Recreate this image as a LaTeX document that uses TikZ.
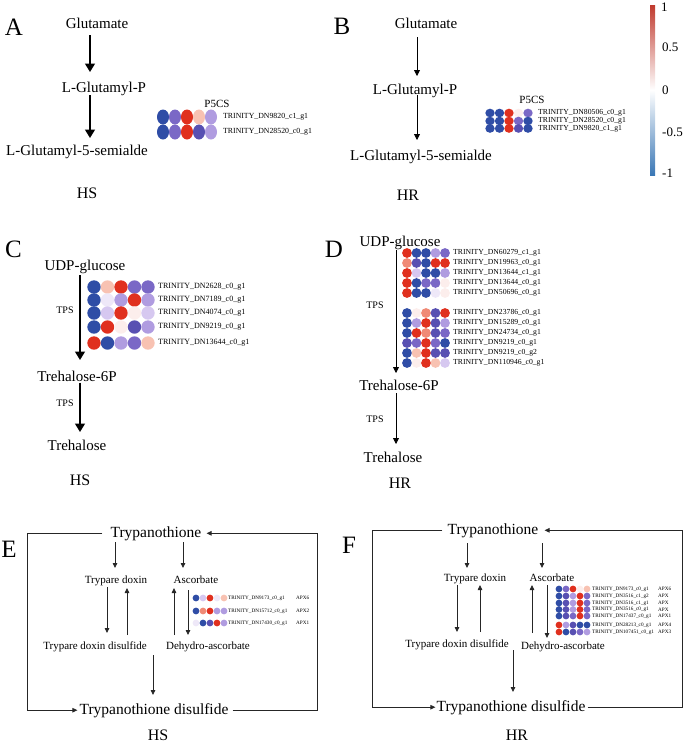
\documentclass[tikz,border=0pt]{standalone}
\usepackage{fontspec}
\setmainfont{Liberation Serif}
\usetikzlibrary{arrows.meta}
\definecolor{dBlu}{HTML}{2F4DA6}
\definecolor{sBlu}{HTML}{5850B2}
\definecolor{mPur}{HTML}{7A68C6}
\definecolor{lPur}{HTML}{B09CE0}
\definecolor{vLav}{HTML}{D6C8F0}
\definecolor{eLav}{HTML}{EEE8F8}
\definecolor{nWht}{HTML}{FCEEEC}
\definecolor{lSal}{HTML}{F8C2B2}
\definecolor{Sal}{HTML}{F08A76}
\definecolor{Red}{HTML}{E0301E}
\definecolor{cRed}{HTML}{C03A2E}
\definecolor{cBlu}{HTML}{3A77B5}
% one heatmap row: name, x0, dx, radii, y, colours, label x, label, font size
\newcommand{\hmrow}[9]{%
  \foreach \hc [count=\i from 0] in {#6} \fill[\hc] ({#2+#3*\i},#5) ellipse (#4);
  \node[gene=#9,anchor=west] (#1) at (#7,#5) {#8};}
\begin{document}
\begin{tikzpicture}[x=1pt,y=-1pt,
  pnl/.style={font=\fontsize{25}{25}\selectfont},
  met/.style={font=\fontsize{15}{15}\selectfont,inner sep=0pt},
  big/.style={font=\fontsize{15.5}{16}\selectfont,inner sep=0pt},
  sml/.style={font=\fontsize{11}{12}\selectfont,inner sep=0pt},
  grp/.style={font=\fontsize{16}{16}\selectfont,inner sep=0pt},
  enz/.style={font=\fontsize{#1}{#1}\selectfont,inner sep=0pt},
  gene/.style={font=\fontsize{#1}{#1}\selectfont,inner sep=0pt},
  thk/.style={line width=1.5pt,-{Triangle[length=8.5pt,width=10pt]}},
  thn/.style={line width=0.8pt,-{Triangle[length=6pt,width=6pt]}},
  arrE/.style={line width=0.8pt,black!85,-{Triangle[length=5pt,width=4.5pt]}},
  linE/.style={line width=0.8pt,black!85}]
\useasboundingbox (0,0) rectangle (685,742);

% A
\node[pnl,anchor=base] (lA) at (14,35) {A};
\node[met,anchor=base] (aGlu) at (97,28) {Glutamate};
\node[met,anchor=base] (aGlp) at (104,92.5) {L-Glutamyl-P};
\node[met,anchor=base] (aGsa) at (77,155) {L-Glutamyl-5-semialde};
\node[grp,anchor=base] (aHS) at (87,198) {HS};
\draw[thk] ([shift={(-7,7)}]aGlu.base) -- ([shift={(-14,-20.5)}]aGlp.base);
\draw[thk] ([shift={(-14,2.5)}]aGlp.base) -- ([shift={(13,-17)}]aGsa.base);
\node[enz=11,anchor=base] (aP5) at (217,107) {P5CS};
\hmrow{aR1}{163}{12}{6 and 7.5}{117}{dBlu,mPur,Red,lSal,lPur}{223}{TRINITY\_DN9820\_c1\_g1}{7.8}
\hmrow{aR2}{163}{12}{6 and 7.5}{132}{dBlu,mPur,Red,sBlu,lPur}{223}{TRINITY\_DN28520\_c0\_g1}{7.8}

% B
\node[pnl,anchor=base] (lB) at (342,34) {B};
\node[met,anchor=base] (bGlu) at (426,28) {Glutamate};
\node[met,anchor=base] (bGlp) at (415,94) {L-Glutamyl-P};
\node[met,anchor=base] (bGsa) at (421,160) {L-Glutamyl-5-semialde};
\node[grp,anchor=base] (bHR) at (408,200) {HR};
\draw[thn] ([shift={(-9,9)}]bGlu.base) -- ([shift={(2,-18)}]bGlp.base);
\draw[thn] ([shift={(2,1)}]bGlp.base) -- ([shift={(-4,-20)}]bGsa.base);
\node[enz=11,anchor=base] (bP5) at (532,103) {P5CS};
\hmrow{bR1}{490}{9.5}{4.7 and 4.3}{113}{dBlu,dBlu,Red,nWht,mPur}{538}{TRINITY\_DN80506\_c0\_g1}{7.7}
\hmrow{bR2}{490}{9.5}{4.7 and 4.3}{121}{dBlu,dBlu,Red,mPur,dBlu}{538}{TRINITY\_DN28520\_c0\_g1}{7.7}
\hmrow{bR3}{490}{9.5}{4.7 and 4.3}{128.5}{dBlu,dBlu,Red,sBlu,dBlu}{538}{TRINITY\_DN9820\_c1\_g1}{7.7}

% colour scale
\shade[top color=cRed,bottom color=cBlu,middle color=white] (650,5) rectangle (655,175);
\node[gene=13,anchor=west] (s1) at (661,7.5) {1};
\node[gene=13,anchor=west] (s2) at (662,47.5) {0.5};
\node[gene=13,anchor=west] (s3) at (662,90) {0};
\node[gene=13,anchor=west] (s4) at (662,132) {-0.5};
\node[gene=13,anchor=west] (s5) at (662,173) {-1};

% C
\node[pnl,anchor=base] (lC) at (13.5,257) {C};
\node[met,anchor=base] (cUdp) at (85,270) {UDP-glucose};
\node[enz=10,anchor=base] (cTps1) at (65,313) {TPS};
\node[met,anchor=base] (cT6p) at (77,381) {Trehalose-6P};
\node[enz=10,anchor=base] (cTps2) at (65,406) {TPS};
\node[met,anchor=base] (cTre) at (77,450) {Trehalose};
\node[grp,anchor=base] (cHS) at (80,485) {HS};
\draw[thk] ([shift={(-5,5)}]cUdp.base) -- ([shift={(3,-21)}]cT6p.base);
\draw[thk] ([shift={(3,1.5)}]cT6p.base) -- ([shift={(3,-18)}]cTre.base);
\hmrow{cR1}{94}{13.5}{6.7 and 6.7}{287}{dBlu,lSal,Red,mPur,mPur}{158}{TRINITY\_DN2628\_c0\_g1}{8}
\hmrow{cR2}{94}{13.5}{6.7 and 6.7}{300}{dBlu,eLav,lPur,Red,lPur}{158}{TRINITY\_DN7189\_c0\_g1}{8}
\hmrow{cR3}{94}{13.5}{6.7 and 6.7}{313}{dBlu,vLav,Red,nWht,vLav}{158}{TRINITY\_DN4074\_c0\_g1}{8}
\hmrow{cR4}{94}{13.5}{6.7 and 6.7}{327}{dBlu,Red,nWht,sBlu,lPur}{158}{TRINITY\_DN9219\_c0\_g1}{8}
\hmrow{cR5}{94}{13.5}{6.7 and 6.7}{343}{Red,dBlu,lPur,mPur,lSal}{158}{TRINITY\_DN13644\_c0\_g1}{8}

% D
\node[pnl,anchor=base] (lD) at (334,257) {D};
\node[met,anchor=base] (dUdp) at (400,246) {UDP-glucose};
\node[enz=10,anchor=base] (dTps1) at (375,308) {TPS};
\node[met,anchor=base] (dT6p) at (399,390) {Trehalose-6P};
\node[enz=10,anchor=base] (dTps2) at (375,422) {TPS};
\node[met,anchor=base] (dTre) at (393,462) {Trehalose};
\node[grp,anchor=base] (dHR) at (400,488) {HR};
\draw[thn] ([shift={(-4,4)}]dUdp.base) -- ([shift={(-3,-17)}]dT6p.base);
\draw[thn] ([shift={(-3,3)}]dT6p.base) -- ([shift={(3,-18)}]dTre.base);
\hmrow{dR1}{407}{9.5}{4.9 and 4.9}{253}{Red,dBlu,dBlu,lPur,mPur}{453}{TRINITY\_DN60279\_c1\_g1}{7.7}
\hmrow{dR2}{407}{9.5}{4.9 and 4.9}{263}{Sal,sBlu,dBlu,Red,Red}{453}{TRINITY\_DN19963\_c0\_g1}{7.7}
\hmrow{dR3}{407}{9.5}{4.9 and 4.9}{273}{Red,vLav,dBlu,dBlu,lPur}{453}{TRINITY\_DN13644\_c1\_g1}{7.7}
\hmrow{dR4}{407}{9.5}{4.9 and 4.9}{283}{Red,dBlu,mPur,mPur,nWht}{453}{TRINITY\_DN13644\_c0\_g1}{7.7}
\hmrow{dR5}{407}{9.5}{4.9 and 4.9}{293}{Red,dBlu,dBlu,eLav,nWht}{453}{TRINITY\_DN50696\_c0\_g1}{7.7}
\hmrow{dR6}{407}{9.5}{4.9 and 4.9}{313}{dBlu,nWht,Sal,sBlu,Red}{453}{TRINITY\_DN23786\_c0\_g1}{7.7}
\hmrow{dR7}{407}{9.5}{4.9 and 4.9}{323}{dBlu,lPur,Red,sBlu,lPur}{453}{TRINITY\_DN15289\_c0\_g1}{7.7}
\hmrow{dR8}{407}{9.5}{4.9 and 4.9}{333}{dBlu,Red,Sal,sBlu,mPur}{453}{TRINITY\_DN24734\_c0\_g1}{7.7}
\hmrow{dR9}{407}{9.5}{4.9 and 4.9}{343}{sBlu,mPur,Red,mPur,dBlu}{453}{TRINITY\_DN9219\_c0\_g1}{7.7}
\hmrow{dR10}{407}{9.5}{4.9 and 4.9}{353}{dBlu,lSal,Red,sBlu,sBlu}{453}{TRINITY\_DN9219\_c0\_g2}{7.7}
\hmrow{dR11}{407}{9.5}{4.9 and 4.9}{363}{dBlu,nWht,Red,lSal,vLav}{453}{TRINITY\_DN110946\_c0\_g1}{7.7}

% E
\node[pnl,anchor=base] (lE) at (9,557) {E};
\node[big,anchor=base] (eTry) at (156,537) {Trypanothione};
\node[big,anchor=base] (eTds) at (154,714) {Trypanothione disulfide};
\node[sml,anchor=base] (eTrx) at (116,583) {Trypare doxin};
\node[sml,anchor=base] (eAsc) at (196,583) {Ascorbate};
\node[sml,anchor=base] (eTxd) at (95,649) {Trypare doxin disulfide};
\node[sml,anchor=base] (eDha) at (208,649) {Dehydro-ascorbate};
\node[grp,anchor=base] (eHS) at (158,740) {HS};
\coordinate (eL) at (27,0);
\coordinate (eR) at (317,0);
\draw[arrE] ([xshift=-8]eTry.west) -- (eTry.west -| eL) -- (eTds.west -| eL) -- ([xshift=-2]eTds.west);
\draw[arrE] ([xshift=4]eTds.east) -- (eTds.east -| eR) -- (eTry.east -| eR) -- ([xshift=5]eTry.east);
\draw[arrE] ([shift={(-41,5)}]eTry.base) -- ([shift={(-1,-15)}]eTrx.base);
\draw[arrE] ([shift={(27,5)}]eTry.base) -- ([shift={(-13,-15)}]eAsc.base);
\draw[arrE] ([shift={(-9,4)}]eTrx.base) -- ([shift={(12,-16)}]eTxd.base);
\draw[arrE] ([shift={(32,-14)}]eTxd.base) -- ([shift={(11,5)}]eTrx.base);
\draw[arrE] ([shift={(-34,-14)}]eDha.base) -- ([shift={(-22,5)}]eAsc.base);
\draw[arrE] ([shift={(-8,7)}]eAsc.base) -- ([shift={(-20,-14)}]eDha.base);
\draw[arrE] ([shift={(58,6)}]eTxd.base) -- ([shift={(-1,-19)}]eTds.base);
\hmrow{eR1}{196}{7}{3.4 and 3.4}{598}{dBlu,vLav,Red,eLav,lSal}{228}{TRINITY\_DN9173\_c0\_g1}{5.2}
\hmrow{eR2}{196}{7}{3.4 and 3.4}{611}{dBlu,Sal,Red,lPur,lPur}{228}{TRINITY\_DN15712\_c0\_g1}{5.2}
\hmrow{eR3}{196}{7}{3.4 and 3.4}{623}{eLav,dBlu,sBlu,Red,lPur}{228}{TRINITY\_DN17430\_c0\_g1}{5.2}
\node[gene=5.2,anchor=west] (eA1) at (296,598) {APX6};
\node[gene=5.2,anchor=west] (eA2) at (296,611) {APX2};
\node[gene=5.2,anchor=west] (eA3) at (296,623) {APX1};

% F
\node[pnl,anchor=base] (lF) at (349,553) {F};
\node[big,anchor=base] (fTry) at (493,534) {Trypanothione};
\node[big,anchor=base] (fTds) at (511,711) {Trypanothione disulfide};
\node[sml,anchor=base] (fTrx) at (475,581) {Trypare doxin};
\node[sml,anchor=base] (fAsc) at (552,581) {Ascorbate};
\node[sml,anchor=base] (fTxd) at (457,647) {Trypare doxin disulfide};
\node[sml,anchor=base] (fDha) at (563,649) {Dehydro-ascorbate};
\node[grp,anchor=base] (fHR) at (517,740) {HR};
\coordinate (fL) at (372,0);
\coordinate (fR) at (682,0);
\draw[arrE] ([xshift=-5]fTry.west) -- (fTry.west -| fL) -- (fTds.west -| fL) -- ([xshift=-1]fTds.west);
\draw[arrE] ([xshift=2]fTds.east) -- (fTds.east -| fR) -- (fTry.east -| fR) -- ([xshift=6]fTry.east);
\draw[arrE] ([shift={(-26,9)}]fTry.base) -- ([shift={(-8,-13)}]fTrx.base);
\draw[arrE] ([shift={(49,9)}]fTry.base) -- ([shift={(-10,-13)}]fAsc.base);
\draw[arrE] ([shift={(-18,4)}]fTrx.base) -- ([shift={(0,-15)}]fTxd.base);
\draw[arrE] ([shift={(23,-15)}]fTxd.base) -- ([shift={(5,4)}]fTrx.base);
\draw[arrE] ([shift={(-31,-16)}]fDha.base) -- ([shift={(-20,4)}]fAsc.base);
\draw[arrE] ([shift={(-5,4)}]fAsc.base) -- ([shift={(-16,-11)}]fDha.base);
\draw[arrE] ([shift={(56,3)}]fTxd.base) -- ([shift={(2,-19)}]fTds.base);
\hmrow{fR1}{559}{7}{3.4 and 3.4}{589}{dBlu,mPur,Red,nWht,lSal}{592}{TRINITY\_DN9173\_c0\_g1}{5.2}
\hmrow{fR2}{559}{7}{3.4 and 3.4}{596}{dBlu,sBlu,lPur,Red,mPur}{592}{TRINITY\_DN3516\_c1\_g2}{5.2}
\hmrow{fR3}{559}{7}{3.4 and 3.4}{603}{dBlu,sBlu,lPur,Red,mPur}{592}{TRINITY\_DN3516\_c1\_g1}{5.2}
\hmrow{fR4}{559}{7}{3.4 and 3.4}{609.5}{dBlu,sBlu,lPur,Red,mPur}{592}{TRINITY\_DN3516\_c0\_g1}{5.2}
\hmrow{fR5}{559}{7}{3.4 and 3.4}{616}{dBlu,sBlu,mPur,Red,mPur}{592}{TRINITY\_DN17437\_c0\_g1}{5.2}
\hmrow{fR6}{559}{7}{3.4 and 3.4}{625}{Red,lPur,sBlu,dBlu,dBlu}{592}{TRINITY\_DN28213\_c0\_g1}{5.2}
\hmrow{fR7}{559}{7}{3.4 and 3.4}{632}{Red,dBlu,sBlu,mPur,lPur}{592}{TRINITY\_DN107451\_c0\_g1}{5.2}
\node[gene=5.2,anchor=west] (fA1) at (658,589) {APX6};
\node[gene=5.2,anchor=west] (fA2) at (658,596) {APX};
\node[gene=5.2,anchor=west] (fA3) at (658,603) {APX};
\node[gene=5.2,anchor=west] (fA4) at (658,609.5) {APX};
\node[gene=5.2,anchor=west] (fA5) at (658,616) {APX1};
\node[gene=5.2,anchor=west] (fA6) at (658,625) {APX4};
\node[gene=5.2,anchor=west] (fA7) at (658,632) {APX3};
\end{tikzpicture}
\end{document}
